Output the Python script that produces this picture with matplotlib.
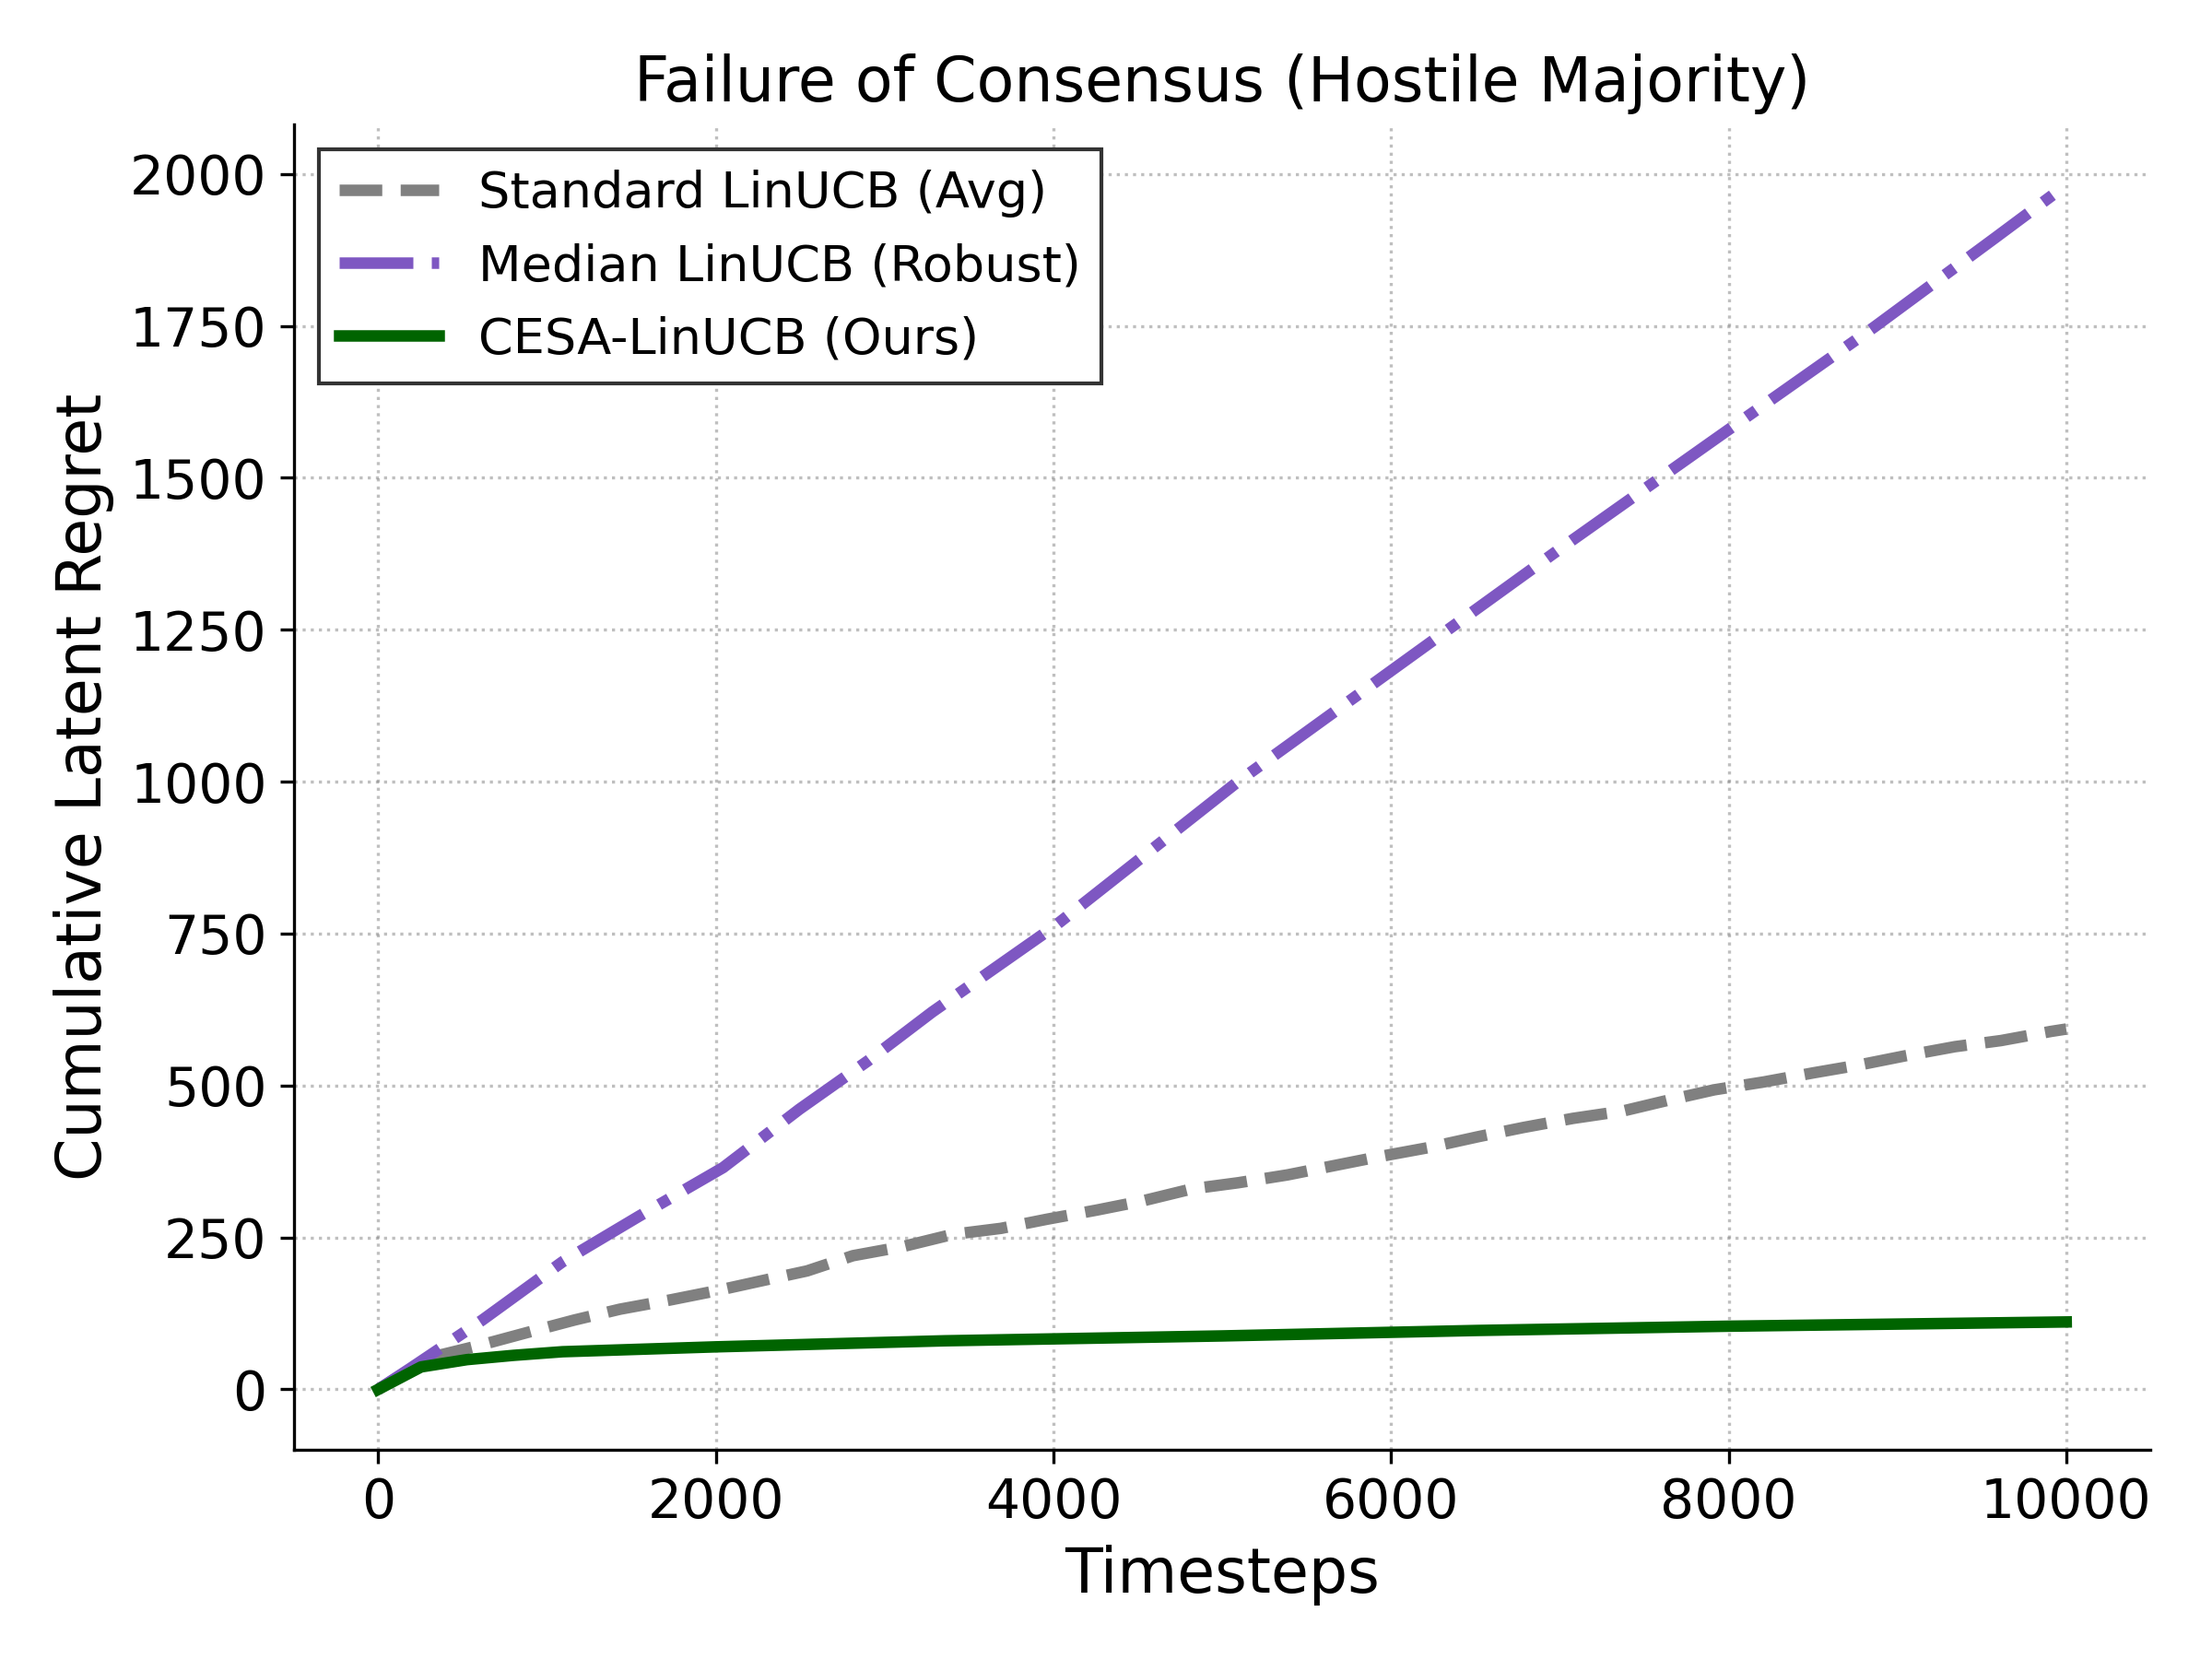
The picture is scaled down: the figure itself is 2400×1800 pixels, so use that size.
import matplotlib
matplotlib.use('Agg')
import matplotlib.pyplot as plt
import numpy as np

# values
avg_steps = [0, 300, 594, 888, 1160, 1432, 1726, 1997, 2292, 2541, 2812, 3107, 3401,
             3689, 3961, 4255, 4526, 4821, 5093, 5387, 5658, 5930, 6224, 6519, 6784,
             7078, 7372, 7644, 7915, 8210, 8504, 8776, 9047, 9341, 9613, 9908, 10000]
avg_regret = [0, 52, 72, 94, 114, 132, 147, 162, 180, 195, 220, 235, 255,
              265, 280, 295, 310, 330, 340, 353, 368, 383, 398, 416, 431,
              446, 458, 476, 493, 506, 521, 534, 549, 564, 574, 589, 593]

median_steps = [0, 187, 616, 1092, 1545, 2043, 2495, 2903, 3282, 4006, 5097, 6018,
                6980, 7901, 8862, 9584, 10000]
median_regret = [0, 34, 114, 210, 285, 365, 461, 541, 621, 762, 1001, 1186,
                 1379, 1560, 1748, 1896, 1982]

cesa_steps = [0, 254, 526, 800, 1092, 1997, 3356, 5000, 6512, 8000, 10000]
cesa_regret = [0, 37, 49, 56, 62, 70, 80, 88, 97, 104, 111]

labels = ['Standard LinUCB (Avg)', 'Median LinUCB (Robust)', 'CESA-LinUCB (Ours)']

fig, ax = plt.subplots(figsize=(8, 6), dpi=300)

ax.plot(avg_steps, avg_regret, color='gray', linestyle='--', linewidth=3, label=labels[0])
ax.plot(median_steps, median_regret, color='#7E57C2', linestyle='-.', linewidth=3, label=labels[1])
ax.plot(cesa_steps, cesa_regret, color='darkgreen', linestyle='-', linewidth=3, label=labels[2])

ax.set_title('Failure of Consensus (Hostile Majority)', fontsize=16)
ax.set_xlabel('Timesteps', fontsize=16)
ax.set_ylabel('Cumulative Latent Regret', fontsize=16)
ax.tick_params(labelsize=14)
ax.set_yticks(np.arange(0, 2001, 250))
ax.grid(True, linestyle=':', color='gray', alpha=0.5)
ax.spines['top'].set_visible(False)
ax.spines['right'].set_visible(False)

leg = ax.legend(loc='upper left', fontsize=13, fancybox=False, edgecolor='#333333', framealpha=1)

plt.tight_layout(pad=1.4)
plt.savefig('out.png', dpi=300)
